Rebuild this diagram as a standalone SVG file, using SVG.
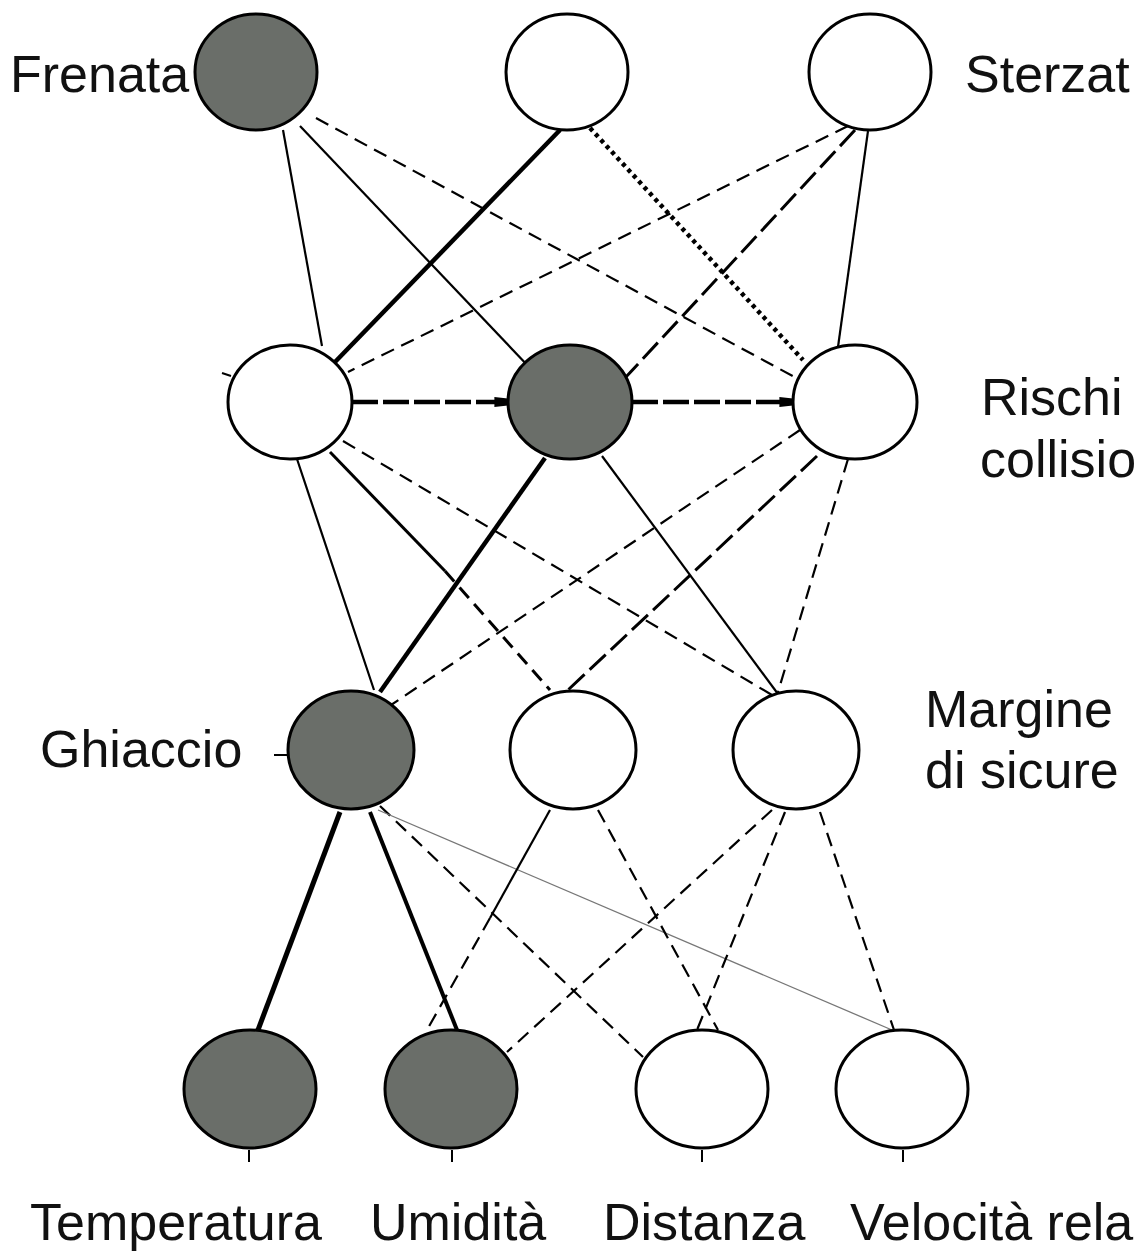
<svg xmlns="http://www.w3.org/2000/svg" width="1138" height="1253" viewBox="0 0 1138 1253">
  <style>
    .node { stroke: #000; stroke-width: 3; }
    .on { fill: #6a6e69; }
    .off { fill: #fff; }
    .lbl { font-family: "Liberation Sans", Arial, Helvetica, sans-serif; font-size: 52px; fill: #111; }
    .e { fill: none; stroke: #000; stroke-linecap: butt; }
    .thin { stroke-width: 2.2; }
    .mid { stroke-width: 3; }
    .thick { stroke-width: 4.5; }
    .dash { stroke-dasharray: 14 8; }
    .ldash { stroke-dasharray: 22 7; }
    .hdash { stroke-dasharray: 26 5; }
    .dot { stroke-dasharray: 4 4; }
    .faint { stroke: #777; stroke-width: 1.3; }
    .tick { stroke: #000; stroke-width: 2; }
  </style>
  <defs>
    <marker id="head" markerWidth="3" markerHeight="4" refX="2.8" refY="2" orient="auto" markerUnits="strokeWidth">
      <path d="M0,0.9 L3,1.2 L3,2.8 L0,3.1 Z" fill="#000"/>
    </marker>
  </defs>

  <rect width="1138" height="1253" fill="#fff"/>

  <!-- connectors -->
  <g id="connectors">
    <!-- output layer to hidden layer 1 -->
    <line class="e thin" x1="283" y1="130" x2="322" y2="346"/>
    <line class="e thin" x1="300" y1="126" x2="530" y2="368"/>
    <line class="e thin dash" x1="316" y1="118" x2="800" y2="380"/>
    <line class="e thick" x1="560" y1="130" x2="335" y2="362"/>
    <line class="e thick dot" x1="590" y1="128" x2="803" y2="360"/>
    <line class="e thin dash" x1="848" y1="126" x2="348" y2="372"/>
    <line class="e mid ldash" x1="855" y1="130" x2="625" y2="378"/>
    <line class="e thin" x1="868" y1="131" x2="838" y2="347"/>

    <!-- lateral links in hidden layer 1 -->
    <line class="e thick hdash" x1="352" y1="402" x2="507" y2="402" marker-end="url(#head)"/>
    <line class="e thick hdash" x1="632" y1="402" x2="792" y2="402" marker-end="url(#head)"/>

    <!-- hidden layer 1 to hidden layer 2 -->
    <line class="e thin" x1="297" y1="459" x2="374" y2="690"/>
    <line class="e mid" x1="330" y1="452" x2="445" y2="571"/>
    <line class="e mid dash" x1="445" y1="571" x2="550" y2="690"/>
    <line class="e thin dash" x1="343" y1="441" x2="772" y2="695"/>
    <line class="e thick" x1="545" y1="458" x2="380" y2="692"/>
    <line class="e thin" x1="602" y1="456" x2="778" y2="694"/>
    <line class="e thin dash" x1="800" y1="430" x2="388" y2="707"/>
    <line class="e mid ldash" x1="817" y1="456" x2="568" y2="690"/>
    <line class="e thin dash" x1="848" y1="459" x2="778" y2="692"/>

    <!-- hidden layer 2 to inputs -->
    <line class="e" stroke-width="5" x1="340" y1="812" x2="258" y2="1030"/>
    <line class="e" stroke-width="4" x1="370" y1="812" x2="457" y2="1030"/>
    <line class="e thin dash" x1="380" y1="806" x2="643" y2="1057"/>
    <line class="e faint" x1="378" y1="810" x2="892" y2="1030"/>
    <line class="e thin" x1="550" y1="810" x2="490" y2="918"/>
    <line class="e thin dash" x1="490" y1="918" x2="427" y2="1030"/>
    <line class="e thin dash" x1="598" y1="810" x2="718" y2="1030"/>
    <line class="e thin dash" x1="772" y1="810" x2="507" y2="1052"/>
    <line class="e thin dash" x1="785" y1="812" x2="697" y2="1030"/>
    <line class="e thin dash" x1="820" y1="812" x2="894" y2="1030"/>

    <!-- small ticks -->
    <line class="tick" x1="222" y1="373" x2="231" y2="376"/>
    <line class="tick" x1="274" y1="755" x2="290" y2="755"/>
    <line class="tick" x1="249" y1="1150" x2="249" y2="1162"/>
    <line class="tick" x1="452" y1="1150" x2="452" y2="1162"/>
    <line class="tick" x1="702" y1="1150" x2="702" y2="1162"/>
    <line class="tick" x1="903" y1="1150" x2="903" y2="1162"/>
  </g>

  <!-- output layer -->
  <g id="n-frenata">
    <ellipse class="node on" cx="256" cy="72" rx="61" ry="58"/>
    <text class="lbl" x="10" y="92">Frenata</text>
  </g>
  <g id="n-out-mid">
    <ellipse class="node off" cx="567" cy="72" rx="61" ry="58"/>
  </g>
  <g id="n-sterzata">
    <ellipse class="node off" cx="870" cy="72" rx="61" ry="58"/>
    <text class="lbl" x="965" y="92">Sterzat</text>
  </g>

  <!-- hidden layer 1: collision risk -->
  <g id="n-r1">
    <ellipse class="node off" cx="290" cy="402" rx="62" ry="57"/>
  </g>
  <g id="n-r2">
    <ellipse class="node on" cx="570" cy="402" rx="62" ry="57"/>
  </g>
  <g id="n-r3">
    <ellipse class="node off" cx="855" cy="402" rx="62" ry="57"/>
    <text class="lbl" x="981" y="415">Rischi</text>
    <text class="lbl" x="980" y="477">collisio</text>
  </g>

  <!-- hidden layer 2: safety margin -->
  <g id="n-ghiaccio">
    <ellipse class="node on" cx="351" cy="750" rx="63" ry="59"/>
    <text class="lbl" x="40" y="767">Ghiaccio</text>
  </g>
  <g id="n-m2">
    <ellipse class="node off" cx="573" cy="750" rx="63" ry="59"/>
  </g>
  <g id="n-m3">
    <ellipse class="node off" cx="796" cy="750" rx="63" ry="59"/>
    <text class="lbl" x="925" y="727">Margine</text>
    <text class="lbl" x="925" y="788">di sicure</text>
  </g>

  <!-- input layer -->
  <g id="n-temperatura">
    <ellipse class="node on" cx="250" cy="1089" rx="66" ry="59"/>
    <text class="lbl" x="30" y="1240">Temperatura</text>
  </g>
  <g id="n-umidita">
    <ellipse class="node on" cx="451" cy="1089" rx="66" ry="59"/>
    <text class="lbl" x="370" y="1240">Umidità</text>
  </g>
  <g id="n-distanza">
    <ellipse class="node off" cx="702" cy="1089" rx="66" ry="59"/>
    <text class="lbl" x="603" y="1240">Distanza</text>
  </g>
  <g id="n-velocita">
    <ellipse class="node off" cx="902" cy="1089" rx="66" ry="59"/>
    <text class="lbl" x="850" y="1240">Velocità rela</text>
  </g>
</svg>
